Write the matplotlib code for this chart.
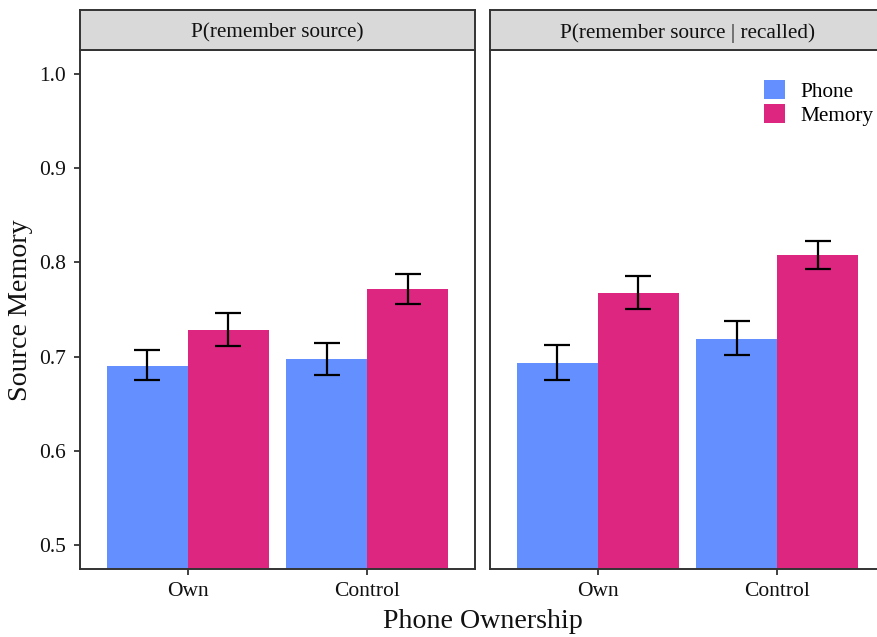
import numpy as np
import matplotlib
matplotlib.use("Agg")
import matplotlib.pyplot as plt
from matplotlib.patches import Patch

plt.rcParams['font.family'] = ['Liberation Serif', 'DejaVu Serif']

# Source memory estimates by phone ownership, split by source condition
ownership = ['Own', 'Control']
panels = ['P(remember source)', 'P(remember source | recalled)']
sources = ['Phone', 'Memory']

# panel 1: P(remember source)
p1_phone = [0.690, 0.698]
p1_phone_lo = [0.675, 0.681]
p1_phone_hi = [0.707, 0.715]
p1_memory = [0.728, 0.7715]
p1_memory_lo = [0.711, 0.756]
p1_memory_hi = [0.7465, 0.788]

# panel 2: P(remember source | recalled)
p2_phone = [0.6935, 0.719]
p2_phone_lo = [0.675, 0.702]
p2_phone_hi = [0.712, 0.738]
p2_memory = [0.768, 0.8075]
p2_memory_lo = [0.751, 0.793]
p2_memory_hi = [0.785, 0.823]

colors = {'Phone': '#648FFF', 'Memory': '#DC267F'}

panel_data = [
    {'Phone': (p1_phone, p1_phone_lo, p1_phone_hi),
     'Memory': (p1_memory, p1_memory_lo, p1_memory_hi)},
    {'Phone': (p2_phone, p2_phone_lo, p2_phone_hi),
     'Memory': (p2_memory, p2_memory_lo, p2_memory_hi)},
]

W, H = 877, 637
fig = plt.figure(figsize=(W / 100, H / 100), dpi=100)

def px_box(x0, y0, x1, y1):
    # pixel box (top-left origin) -> figure fraction rect
    return [x0 / W, 1 - y1 / H, (x1 - x0) / W, (y1 - y0) / H]

panel_x = [(80, 475), (490, 885)]
edge = '#333333'
txt = '#111111'
bar_w = 0.45
x = np.arange(1, len(ownership) + 1)

axes = []
for i, (x0, x1) in enumerate(panel_x):
    ax = fig.add_axes(px_box(x0, 50, x1, 569))
    strip = fig.add_axes(px_box(x0, 10, x1, 50))
    strip.set_facecolor('#D9D9D9')
    strip.set_xticks([])
    strip.set_yticks([])
    for s in strip.spines.values():
        s.set_color(edge)
        s.set_linewidth(1.4)
    strip.text(0.5, 0.43, panels[i], ha='center', va='center', fontsize=15.3,
               color=txt, transform=strip.transAxes)

    data = panel_data[i]
    for j, src in enumerate(sources):
        vals, lo, hi = data[src]
        pos = x + (j - 0.5) * bar_w
        ax.bar(pos, vals, width=bar_w, color=colors[src], label=src, zorder=1)
        vals = np.array(vals)
        yerr = [vals - np.array(lo), np.array(hi) - vals]
        ax.errorbar(pos, vals, yerr=yerr, fmt='none', ecolor='black',
                    elinewidth=1.6, capsize=9.6, capthick=1.6, zorder=2)

    ax.set_xlim(0.4, 2.6)
    ax.set_ylim(0.475, 1.025)
    ax.set_xticks(x)
    ax.set_xticklabels(ownership, fontsize=15.5, color=txt)
    ax.set_yticks([0.5, 0.6, 0.7, 0.8, 0.9, 1.0])
    ax.set_yticklabels(['0.5', '0.6', '0.7', '0.8', '0.9', '1.0'], fontsize=15.5, color=txt)
    ax.tick_params(axis='both', length=4, width=1.3, color=edge)
    ax.tick_params(axis='x', pad=5)
    ax.tick_params(axis='y', pad=6)
    if i == 1:
        ax.tick_params(axis='y', left=False, labelleft=False)
    for s in ax.spines.values():
        s.set_color(edge)
        s.set_linewidth(1.4)
    axes.append(ax)

handles = [Patch(facecolor=colors[s], edgecolor='none') for s in sources]
axes[1].legend(handles, sources, loc='upper left', bbox_to_anchor=(764 / W, 1 - 80 / H),
               bbox_transform=fig.transFigure, frameon=False, fontsize=15.3,
               handlelength=1.0, handleheight=1.0, handletextpad=0.7,
               labelspacing=0.12, borderaxespad=0, borderpad=0)

fig.text(21 / W, 1 - 310 / H, 'Source Memory', rotation=90, ha='center', va='center',
         fontsize=20.2, color=txt)
fig.text(483 / W, 1 - 621 / H, 'Phone Ownership', ha='center', va='center',
         fontsize=20.2, color=txt)

fig.savefig('out.png', dpi=100)
